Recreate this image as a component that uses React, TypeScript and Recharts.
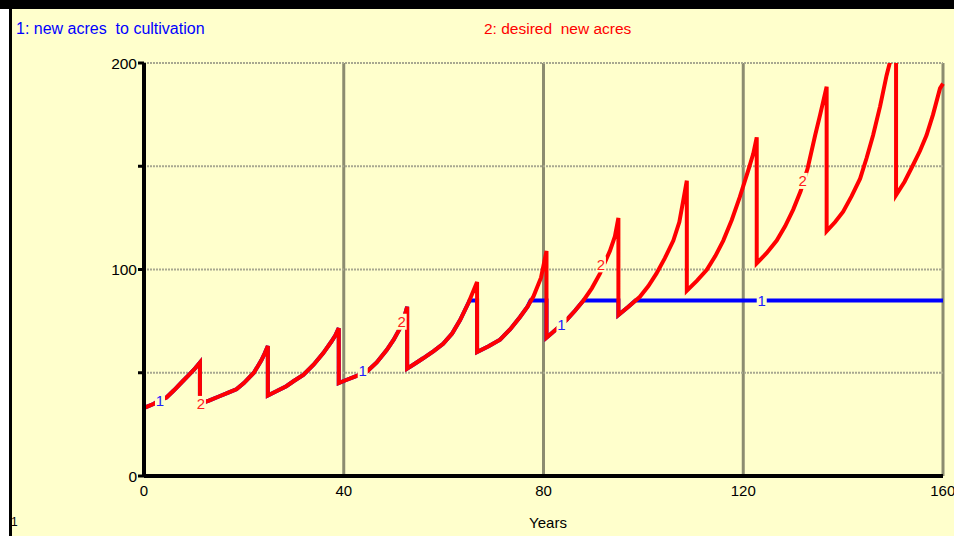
import { CartesianGrid, ComposedChart, Line, Scatter, XAxis, YAxis } from "recharts";

const FONT = '"Liberation Sans", Arial, sans-serif';
const BG = "#FFFFCC";

// desired new acres (series 2); repeated years are the drops
const redYears = [
  0, 1, 2, 3.2, 4.5, 6, 7.8, 9, 10, 11.2,
  11.2, 13, 15, 17, 18.5, 20, 22, 23.5, 24.2, 24.8,
  24.8, 26.5, 28.5, 30, 31.9, 34, 35.9, 37.5, 38.3, 39,
  39, 40.5, 42.6, 44.6, 46.6, 48.6, 50, 51.3, 52, 52.7,
  52.7, 54.3, 55.9, 58, 59.9, 61.7, 63.3, 65, 66.7,
  66.7, 69, 71.3, 73.3, 75.3, 76.8, 78, 79.5, 80.6,
  80.6, 82.5, 84.6, 86.3, 88, 89.7, 91.3, 93.3, 94.3, 95,
  95, 97, 99.3, 101, 102.6, 104.3, 106, 107.2, 108, 108.7,
  108.7, 110.7, 112.7, 114.4, 116, 117.7, 119.3, 121, 122, 122.7,
  122.7, 124.7, 126.7, 128.4, 130, 131.5, 132.9, 134.4, 135.4, 136.7,
  136.7, 138.4, 140, 141.7, 143.4, 144.7, 146, 147.4, 148.7, 150.6,
  150.6, 152.3, 154, 155.4, 156.7, 158, 159.4, 160,
];
const redValues = [
  33, 34, 35, 36.8, 38, 41.5, 46, 49, 51.5, 55,
  35, 36.5, 38.5, 40.5, 42, 45, 50, 56, 59.5, 63,
  39, 41, 43.5, 46, 49, 54, 59.5, 65, 68, 71.6,
  45, 46.5, 48.5, 50.5, 55, 61, 66, 71.7, 76, 82,
  52, 54.5, 57, 60.5, 64, 69, 75.5, 84, 94,
  60, 62.8, 66, 71, 77, 82, 87, 96, 109,
  67, 71, 75.5, 80, 85, 91, 98, 109, 116, 125,
  78, 82, 86.8, 92, 98, 105.5, 114, 123, 133.6, 143,
  89.7, 94.5, 99.8, 106.5, 114, 124, 135, 148, 156, 164,
  103, 108, 114, 121, 129, 138, 149, 165, 175, 188.5,
  118.6, 123, 128, 135.5, 144, 154, 165, 179, 194, 212,
  136, 142.5, 150.6, 157.5, 165, 175, 187.7, 190,
];

// new acres to cultivation (series 1)
const blueYears = [
  0, 1, 2, 3.2, 4.5, 6, 7.8, 9, 10, 11.2,
  11.2, 13, 15, 17, 18.5, 20, 22, 23.5, 24.2, 24.8,
  24.8, 26.5, 28.5, 30, 31.9, 34, 35.9, 37.5, 38.3, 39,
  39, 40.5, 42.6, 44.6, 46.6, 48.6, 50, 51.3, 52, 52.7,
  52.7, 54.3, 55.9, 58, 59.9, 61.7, 63.3, 65.2, 66.7,
  66.7, 69, 71.3, 73.3, 75.3, 76.8, 77.4, 80.6,
  80.6, 82.5, 84.6, 86.3, 88, 95,
  95, 97, 98.4, 160,
];
const blueValues = [
  33, 34, 35, 36.8, 38, 41.5, 46, 49, 51.5, 55,
  35, 36.5, 38.5, 40.5, 42, 45, 50, 56, 59.5, 63,
  39, 41, 43.5, 46, 49, 54, 59.5, 65, 68, 71.6,
  45, 46.5, 48.5, 50.5, 55, 61, 66, 71.7, 76, 82,
  52, 54.5, 57, 60.5, 64, 69, 75.5, 85, 85,
  60, 62.8, 66, 71, 77, 82, 85, 85,
  67, 71, 75.5, 80, 85, 85,
  78, 82, 85, 85,
];

// series number markers drawn on the curves
const markerYears = [3.2, 43.8, 83.6, 123.7, 11.4, 51.6, 91.5, 131.9];
const markerValues = [36.8, 51.2, 73.6, 84.8, 34.9, 74.7, 102.5, 142.9];
const markerTexts = ["1", "1", "1", "1", "2", "2", "2", "2"];

const xTicks = [0, 40, 80, 120, 160];
const yTicks = [0, 50, 100, 150, 200];

const redData = redYears.map((year, i) => ({ year, v: redValues[i] }));
const blueData = blueYears.map((year, i) => ({ year, v: blueValues[i] }));
const markerData = markerYears.map((year, i) => ({ year, v: markerValues[i], t: markerTexts[i] }));

const renderMarker = (props: any) => {
  const { cx, cy, payload } = props;
  const color = payload.t === "1" ? "#2020FF" : "#FF2020";
  return (
    <g>
      <rect x={cx - 5} y={cy - 8} width={10} height={16} fill={BG} />
      <text x={cx} y={cy} textAnchor="middle" dominantBaseline="central" fill={color} fontSize={15} fontFamily={FONT}>
        {payload.t}
      </text>
    </g>
  );
};

export default function App() {
  return (
    <div style={{ position: "absolute", left: 0, top: 0, width: 954, height: 536, background: BG, overflow: "hidden", fontFamily: FONT }}>
      <div style={{ position: "absolute", left: 0, top: 0, width: 9, height: 536, background: "#fff" }} />
      <div style={{ position: "absolute", left: 9, top: 0, width: 3, height: 536, background: "#000" }} />
      <div style={{ position: "absolute", left: 0, top: 0, width: 954, height: 9, background: "#000" }} />
      <div style={{ position: "absolute", left: 16, top: 20, fontSize: 16, color: "#0000FF", whiteSpace: "pre" }}>
        1: new acres  to cultivation
      </div>
      <div style={{ position: "absolute", left: 484, top: 20, fontSize: 15.5, color: "#FF0000", whiteSpace: "pre" }}>
        2: desired  new acres
      </div>
      <div style={{ position: "absolute", left: 498, width: 100, top: 514, fontSize: 15, color: "#000", textAlign: "center" }}>Years</div>
      <div style={{ position: "absolute", left: 11, top: 515, fontSize: 12, color: "#000" }}>1</div>
      <div style={{ position: "absolute", left: 0, top: 0 }}>
        <ComposedChart width={954} height={536} margin={{ top: 63, right: 11, bottom: 30, left: 104 }}>
          <CartesianGrid horizontal={false} stroke="#8C8C70" strokeWidth={3} />
          <CartesianGrid vertical={false} stroke="#A8A890" strokeWidth={2} strokeDasharray="2 1" />
          <XAxis
            type="number"
            dataKey="year"
            domain={[0, 160]}
            ticks={xTicks}
            height={30}
            axisLine={{ stroke: "#000", strokeWidth: 4 }}
            tickLine={{ stroke: "none" }}
            tickSize={6}
            tickMargin={3}
            tick={{ fill: "#000", fontSize: 15, fontFamily: FONT }}
          />
          <YAxis
            type="number"
            domain={[0, 200]}
            ticks={yTicks}
            allowDataOverflow
            width={40}
            axisLine={{ stroke: "#000", strokeWidth: 4 }}
            tickLine={{ stroke: "#000", strokeWidth: 3 }}
            tickSize={6}
            tickMargin={1}
            tickFormatter={(v: number) => (v % 100 === 0 ? String(v) : "")}
            tick={{ fill: "#000", fontSize: 15.5, fontFamily: FONT }}
          />
          <Line data={blueData} dataKey="v" type="linear" stroke="#0000FF" strokeWidth={4} dot={false} isAnimationActive={false} />
          <Line data={redData} dataKey="v" type="linear" stroke="#FF0000" strokeWidth={4} dot={false} isAnimationActive={false} />
          <Scatter data={markerData} dataKey="v" shape={renderMarker} isAnimationActive={false} />
        </ComposedChart>
      </div>
    </div>
  );
}
